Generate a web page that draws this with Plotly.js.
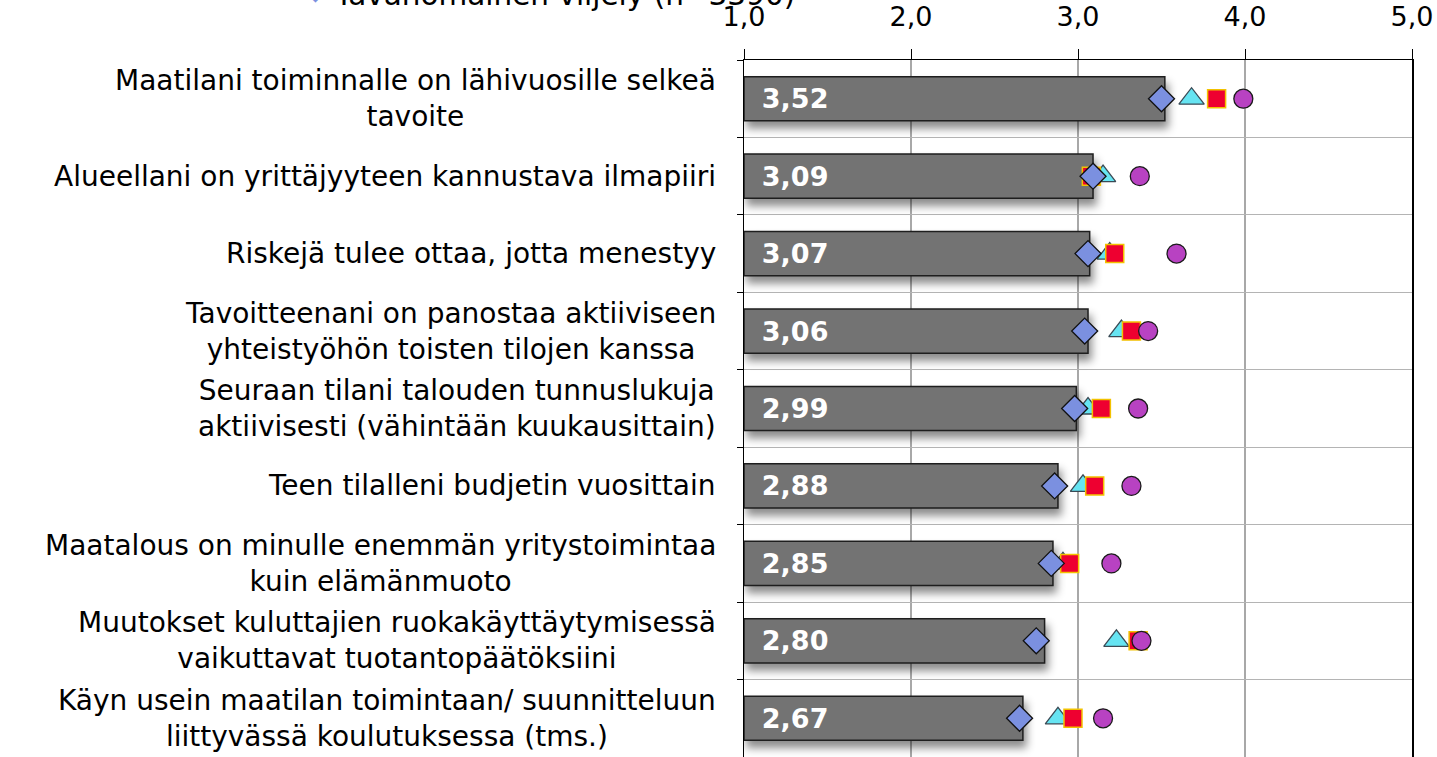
<!DOCTYPE html>
<html>
<head>
<meta charset="utf-8">
<script src="https://cdn.plot.ly/plotly-3.0.1.min.js"></script>
<style>
  html, body { margin: 0; padding: 0; background: #ffffff; }
  #chart { width: 1437px; height: 757px; }
</style>
</head>
<body>
<div id="chart"></div>
<script>
// ---- data ----
const categories = [
  "Maatilani toiminnalle on lähivuosille selkeä<br>tavoite",
  "Alueellani on yrittäjyyteen kannustava ilmapiiri",
  "Riskejä tulee ottaa, jotta menestyy",
  "Tavoitteenani on panostaa aktiiviseen<br>yhteistyöhön toisten tilojen kanssa",
  "Seuraan tilani talouden tunnuslukuja<br>aktiivisesti (vähintään kuukausittain)",
  "Teen tilalleni budjetin vuosittain",
  "Maatalous on minulle enemmän yritystoimintaa<br>kuin elämänmuoto",
  "Muutokset kuluttajien ruokakäyttäytymisessä<br>vaikuttavat tuotantopäätöksiini",
  "Käyn usein maatilan toimintaan/ suunnitteluun<br>liittyvässä koulutuksessa (tms.)"
];
const barValues      = [3.52, 3.09, 3.07, 3.06, 2.99, 2.88, 2.85, 2.80, 2.67];
const triangleValues = [3.68, 3.15, 3.19, 3.26, 3.06, 3.03, 2.91, 3.23, 2.88];
const squareValues   = [3.83, 3.08, 3.22, 3.32, 3.14, 3.10, 2.95, 3.36, 2.97];
const circleValues   = [3.99, 3.37, 3.59, 3.42, 3.36, 3.32, 3.20, 3.38, 3.15];
const diamondValues  = [3.50, 3.09, 3.06, 3.04, 2.98, 2.86, 2.84, 2.75, 2.65];
const diamondName = "Tavanomainen viljely (n=3390)";
const axisMin = 1;
const tickValues = [1, 2, 3, 4, 5];

const FONT = "DejaVu Sans, Verdana, sans-serif";

const traces = [
  {
    type: "bar",
    orientation: "h",
    name: "Kaikki",
    y: categories,
    base: axisMin,
    x: barValues.map(v => v - axisMin),
    customdata: barValues,
    texttemplate: "\u00a0\u2009%{customdata:.2f}",
    textposition: "inside",
    insidetextanchor: "start",
    constraintext: "none",
    textfont: { family: FONT, size: 27, color: "#ffffff", weight: "bold" },
    marker: { color: "#737373", line: { color: "#1e1e1e", width: 1.5 } },
    hovertemplate: "%{customdata:.2f}<extra></extra>",
    showlegend: false
  },
  {
    type: "scatter", mode: "markers", name: "Sarja 2",
    y: categories, x: triangleValues,
    marker: { symbol: "triangle-up", size: 22, color: "#66e4f2", line: { color: "#3a4a55", width: 1.3 } },
    showlegend: false
  },
  {
    type: "scatter", mode: "markers", name: "Sarja 3",
    y: categories, x: squareValues,
    marker: { symbol: "square", size: 18, color: "#ee0030", line: { color: "#f2c200", width: 1.5 } },
    showlegend: false
  },
  {
    type: "scatter", mode: "markers", name: "Sarja 4",
    y: categories, x: circleValues,
    marker: { symbol: "circle", size: 19, color: "#b842c2", line: { color: "#1a1a1a", width: 1.3 } },
    showlegend: false
  },
  {
    type: "scatter", mode: "markers", name: diamondName,
    y: categories, x: diamondValues,
    marker: { symbol: "diamond", size: 20, color: "#7b90e0", line: { color: "#111111", width: 1.3 } },
    showlegend: false
  }
];

const annotations = categories.map(c => ({
  xref: "paper", yref: "y", x: 0, y: c,
  xanchor: "right", yanchor: "middle", xshift: -26,
  align: "center", showarrow: false,
  text: c,
  font: { family: FONT, size: 28, color: "#000000" }
}));
annotations.push({
  xref: "paper", yref: "paper", x: 0, y: 1,
  xanchor: "left", yanchor: "bottom", xshift: -412, yshift: 46,
  showarrow: false, align: "left",
  text: diamondName,
  font: { family: FONT, size: 29.5, color: "#000000" }
});
annotations.push({
  xref: "paper", yref: "paper", x: 0, y: 1,
  xanchor: "center", yanchor: "bottom", xshift: -429, yshift: 54,
  showarrow: false,
  text: "◆",
  font: { family: FONT, size: 14, color: "#7b90e0" }
});

const layout = {
  width: 1437, height: 757,
  margin: { l: 744, r: 25, t: 60, b: 0, pad: 0 },
  paper_bgcolor: "#ffffff", plot_bgcolor: "#ffffff",
  separators: ", ",
  font: { family: FONT, color: "#000000", size: 25 },
  bargap: 0.43,
  showlegend: false,
  xaxis: {
    side: "top",
    range: [axisMin, 5],
    tickvals: tickValues,
    tickformat: ".1f",
    ticks: "outside", ticklen: 10, tickcolor: "#000000", tickwidth: 1,
    ticklabelstandoff: 12,
    tickfont: { family: FONT, size: 27, color: "#000000" },
    showgrid: true, gridcolor: "#a8a8a8", gridwidth: 1.2,
    showline: true, linecolor: "#000000", linewidth: 1.5,
    zeroline: false, fixedrange: true
  },
  yaxis: {
    type: "category",
    range: [categories.length - 0.5, -0.5],
    tickson: "boundaries",
    ticks: "outside", ticklen: 6, tickcolor: "#000000",
    showticklabels: false,
    showgrid: true, gridcolor: "#b4b4b4", gridwidth: 1.2,
    showline: true, linecolor: "#000000", linewidth: 1.5, mirror: true,
    zeroline: false, fixedrange: true
  },
  annotations: annotations
};

Plotly.newPlot("chart", traces, layout, { displayModeBar: false, staticPlot: true }).then(() => {
  document.querySelectorAll("#chart .barlayer .point path").forEach(p => {
    p.style.filter = "drop-shadow(3px 7px 4px rgba(0,0,0,0.45))";
  });
});
</script>
</body>
</html>
